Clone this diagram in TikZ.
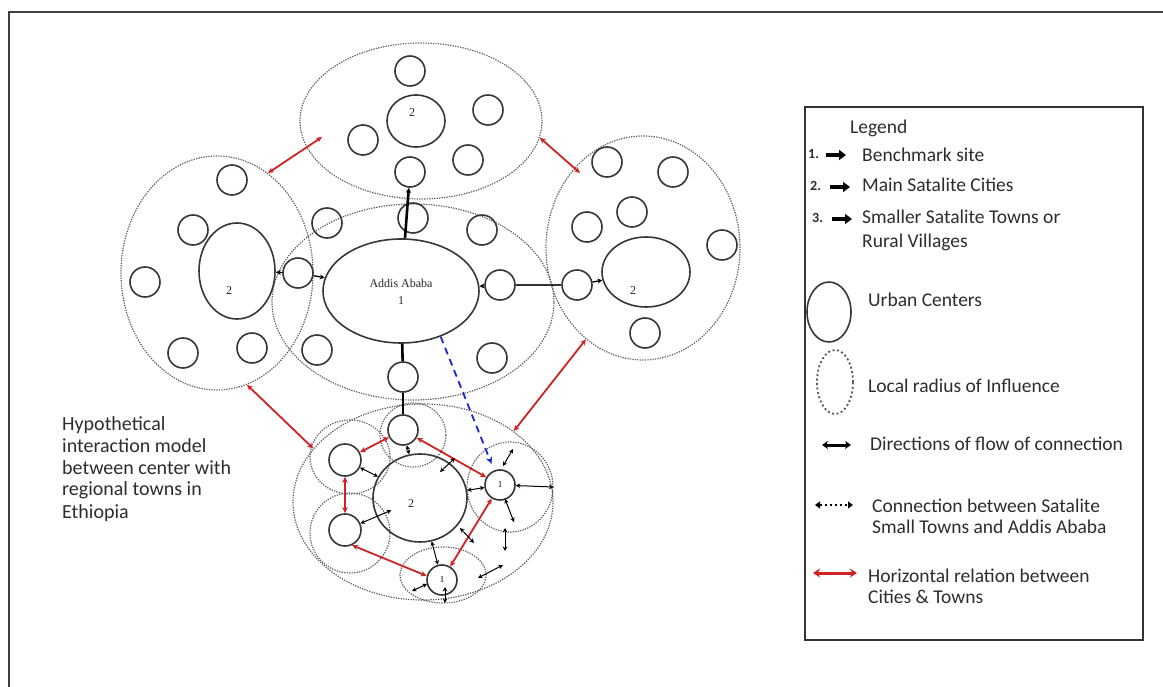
\documentclass[tikz,border=0pt]{standalone}
\usepackage{fontspec}
\setmainfont{Carlito}
\newfontfamily\serifnum{Liberation Serif}
\usetikzlibrary{shapes.geometric,arrows.meta}

\definecolor{ink}{RGB}{55,55,55}
\definecolor{dotgray}{RGB}{95,95,95}
\definecolor{hred}{RGB}{205,35,35}
\definecolor{dblue}{RGB}{30,40,210}
\definecolor{txt}{RGB}{45,45,45}

\begin{document}
\begin{tikzpicture}[x=1pt,y=-1pt,
  zone/.style={ellipse, draw=dotgray, line width=1.2pt, dash pattern=on 1.3pt off 1.2pt, inner sep=0pt},
  city/.style={ellipse, draw=ink, line width=1.6pt, inner sep=0pt},
  town/.style={circle, draw=ink, line width=1.6pt, minimum size=30pt, inner sep=0pt,
               font=\serifnum\fontsize{9}{10}\selectfont},
  link/.style={draw=black, line width=1.3pt},
  thicklink/.style={draw=black, line width=2.6pt},
  tip/.style={-{Stealth[length=5pt,width=5pt]}},
  flow/.style={draw=black, line width=1pt, {Stealth[length=4.5pt,width=4.5pt]}-{Stealth[length=4.5pt,width=4.5pt]}},
  hrel/.style={draw=hred, line width=1.8pt, {Stealth[length=6pt,width=5.5pt]}-{Stealth[length=6pt,width=5.5pt]}},
  lbl/.style={font=\serifnum\fontsize{12}{14}\selectfont, text=black!85, inner sep=0pt, anchor=base},
  ltxt/.style={font=\fontsize{19.5}{21}\selectfont, text=txt, inner sep=0pt, anchor=base west},
  ctxt/.style={font=\fontsize{20}{22}\selectfont, text=txt, inner sep=0pt, anchor=base west},
  lnum/.style={font=\bfseries\fontsize{14}{16}\selectfont, text=txt, inner sep=0pt, anchor=base west},
  glyph/.style={draw=black, line width=3.5pt, -{Triangle[length=7pt,width=10pt]}},
]
\useasboundingbox (0,0) rectangle (1163,687);

% outer frame (top and left edges)
\draw[line width=2pt, black!75] (9,687) -- (9,12) -- (1163,12);

% ---------- zones of influence ----------
\node[zone, minimum width=242pt, minimum height=156pt] (T) at (421,121) {};
\node[zone, minimum width=282pt, minimum height=196pt] (C) at (413,302) {};
\node[zone, minimum width=192pt, minimum height=234pt] (L) at (217,273) {};
\node[zone, minimum width=194pt, minimum height=224pt] (R) at (643,248) {};
\node[zone, minimum width=260pt, minimum height=196pt] (B) at (423,502) {};
\node[zone, minimum width=66pt, minimum height=64pt] (b1) at (413,435) {};
\node[zone, minimum width=80pt, minimum height=74pt] (b2) at (350,457) {};
\node[zone, minimum width=80pt, minimum height=80pt] (b3) at (350,533) {};
\node[zone, minimum width=86pt, minimum height=90pt] (b4) at (510,487) {};
\node[zone, minimum width=86pt, minimum height=56pt] (b5) at (443,575) {};

% ---------- cities ----------
\node[city, minimum width=156pt, minimum height=104pt] (A) at (401,291) {};
\node[city, minimum width=58pt, minimum height=52pt] (T2) at (416,121) {};
\node[city, minimum width=76pt, minimum height=96pt] (L2) at (237,271) {};
\node[city, minimum width=88pt, minimum height=70pt] (R2) at (646,272) {};
\node[city, minimum width=94pt, minimum height=88pt] (B2) at (420,498) {};

\node[lbl] (nA) at (401,288) {Addis Ababa};
\node[lbl] (nA1) at (401,305) {1};
\node[lbl] (nT2) at (412,117) {2};
\node[lbl] (nL2) at (229,295) {2};
\node[lbl] (nR2) at (633,295) {2};
\node[lbl] (nB2) at (411,507) {2};

% ---------- towns ----------
\node[town] (tT1) at (410,71) {};
\node[town] (tT2) at (488,110) {};
\node[town] (tT3) at (363,140) {};
\node[town] (tT4) at (468,160) {};
\node[town] (tT5) at (410,172) {};

\node[town] (tC1) at (413,218) {};
\node[town] (tC2) at (327,223) {};
\node[town] (tC3) at (482,230) {};
\node[town] (tC4) at (317,350) {};
\node[town] (tC5) at (492,358) {};
\node[town] (tC6) at (403,377) {};
\node[town] (tCL) at (298,273) {};
\node[town] (tCR) at (500,285) {};

\node[town] (tL1) at (232,180) {};
\node[town] (tL2) at (193,230) {};
\node[town] (tL3) at (145,282) {};
\node[town] (tL4) at (183,353) {};
\node[town] (tL5) at (252,348) {};

\node[town] (tR1) at (607,162) {};
\node[town] (tR2) at (673,172) {};
\node[town] (tR3) at (632,212) {};
\node[town] (tR4) at (587,227) {};
\node[town] (tR5) at (722,245) {};
\node[town] (tR6) at (645,333) {};
\node[town] (tRL) at (577,285) {};

\node[town] (tB1) at (403,430) {};
\node[town, minimum size=32pt] (tB2) at (345,460) {};
\node[town, minimum size=32pt] (tB3) at (345,530) {};
\node[town] (tB4) at (500,485) {1};
\node[town] (tB5) at (442,580) {1};

% ---------- links of flow ----------
\draw[thicklink, tip] (A) -- (tT5);
\draw[thicklink] (A) -- (tC6);
\draw[link] (tC6) -- (tB1);
\draw[link, tip] (tCL) -- (L2);
\draw[link, tip] (tCL) -- (A);
\draw[link, tip] (tCR) -- (A);
\draw[draw=black!80, line width=2pt] (tCR) -- (tRL);
\draw[link, tip] (tRL) -- (R2);

% ---------- horizontal relations (red) ----------
\coordinate (hLT) at (322,137);
\coordinate (hTR) at (580,173);
\draw[hrel] (L.63) -- (hLT);
\draw[hrel] (T.-8) -- (hTR);
\draw[hrel] (L.-75) -- (B.154);
\draw[hrel] (R.-122) -- (B.38);
\draw[hrel] (tB2) -- (tB1);
\draw[hrel] (tB1) -- (tB4);
\draw[hrel] (tB3) -- (tB2);
\draw[hrel] (tB5.165) -- (tB3.-65);
\draw[hrel] (tB5) -- (tB4);

% ---------- blue dashed ----------
\draw[dblue, line width=1.8pt, dash pattern=on 7pt off 5pt, shorten >=7pt,
      -{Stealth[length=7pt,width=6.5pt]}] (A.-49) -- (tB4);

% ---------- small flows in the southern cluster ----------
\draw[flow] (tB1) -- (B2);
\draw[flow] (tB2) -- (B2);
\draw[flow, shorten >=-16pt] (tB3) -- (B2);
\draw[flow] (B2) -- (tB4);
\draw[flow] (B2) -- (tB5);
\draw[flow] (tB4) -- (b4.east);
\coordinate (f1a) at (440,472); \coordinate (f1b) at (455,458);
\coordinate (f2a) at (503,466); \coordinate (f2b) at (513,449);
\coordinate (f3a) at (505,499); \coordinate (f3b) at (514,522);
\coordinate (f4a) at (505,528); \coordinate (f4b) at (505,551);
\coordinate (f5a) at (478,578); \coordinate (f5b) at (503,565);
\coordinate (f6a) at (460,528); \coordinate (f6b) at (474,543);
\coordinate (f7a) at (427,584); \coordinate (f7b) at (412,591);
\coordinate (f8a) at (445,587); \coordinate (f8b) at (445,603);
\draw[flow] (f1a) -- (f1b);
\draw[flow] (f2a) -- (f2b);
\draw[flow] (f3a) -- (f3b);
\draw[flow] (f4a) -- (f4b);
\draw[flow] (f5a) -- (f5b);
\draw[flow] (f6a) -- (f6b);
\draw[flow] (f7a) -- (f7b);
\draw[flow] (f8a) -- (f8b);

% ---------- caption ----------
\node[ctxt] (h1) at (62,430) {Hypothetical};
\node[ctxt] (h2) at (62,452) {interaction model};
\node[ctxt] (h3) at (62,474) {between center with};
\node[ctxt] (h4) at (62,495) {regional towns in};
\node[ctxt] (h5) at (62,518) {Ethiopia};

% ---------- legend ----------
\draw[line width=1.5pt, black!80] (805,107) rectangle (1143,640);
\node[ltxt] (lg) at (850,134) {Legend};

\node[lnum] (n1) at (808,159) {1.};
\coordinate (g1a) at (826,155); \coordinate (g1b) at (846,155);
\draw[glyph] (g1a) -- (g1b);
\node[ltxt] (l1) at (862,162) {Benchmark site};

\node[lnum] (n2) at (810,191) {2.};
\coordinate (g2a) at (830,187); \coordinate (g2b) at (850,187);
\draw[glyph] (g2a) -- (g2b);
\node[ltxt] (l2) at (862,192) {Main Satalite Cities};

\node[lnum] (n3) at (812,223) {3.};
\coordinate (g3a) at (832,219); \coordinate (g3b) at (852,219);
\draw[glyph] (g3a) -- (g3b);
\node[ltxt] (l3a) at (862,224) {Smaller Satalite Towns or};
\node[ltxt] (l3b) at (862,248) {Rural Villages};

\node[city, minimum width=44pt, minimum height=60pt] (iU) at (829,312) {};
\node[ltxt] (l4) at (868,307) {Urban Centers};

\node[zone, draw=black!65, line width=1.8pt, dash pattern=on 2pt off 2.5pt,
      minimum width=36pt, minimum height=64pt] (iZ) at (835,382) {};
\node[ltxt] (l5) at (868,392) {Local radius of Influence};

\coordinate (d1a) at (822,445); \coordinate (d1b) at (851,445);
\draw[draw=black, line width=3pt, {Stealth[length=6pt,width=8pt]}-{Stealth[length=6pt,width=8pt]}] (d1a) -- (d1b);
\node[ltxt] (l6) at (870,450) {Directions of flow of connection};

\coordinate (d2a) at (815,505); \coordinate (d2b) at (853,505);
\draw[draw=black, line width=1.6pt, dash pattern=on 2pt off 3pt,
      {Triangle[length=5pt,width=7pt]}-{Triangle[length=5pt,width=7pt]}] (d2a) -- (d2b);
\node[ltxt] (l7a) at (872,512) {Connection between Satalite};
\node[ltxt] (l7b) at (872,533) {Small Towns and Addis Ababa};

\coordinate (d3a) at (813,573); \coordinate (d3b) at (857,573);
\draw[draw=hred, line width=3pt, {Stealth[length=7pt,width=9pt]}-{Stealth[length=7pt,width=9pt]}] (d3a) -- (d3b);
\node[ltxt] (l8a) at (868,582) {Horizontal relation between};
\node[ltxt] (l8b) at (868,603) {Cities \& Towns};
\end{tikzpicture}
\end{document}
